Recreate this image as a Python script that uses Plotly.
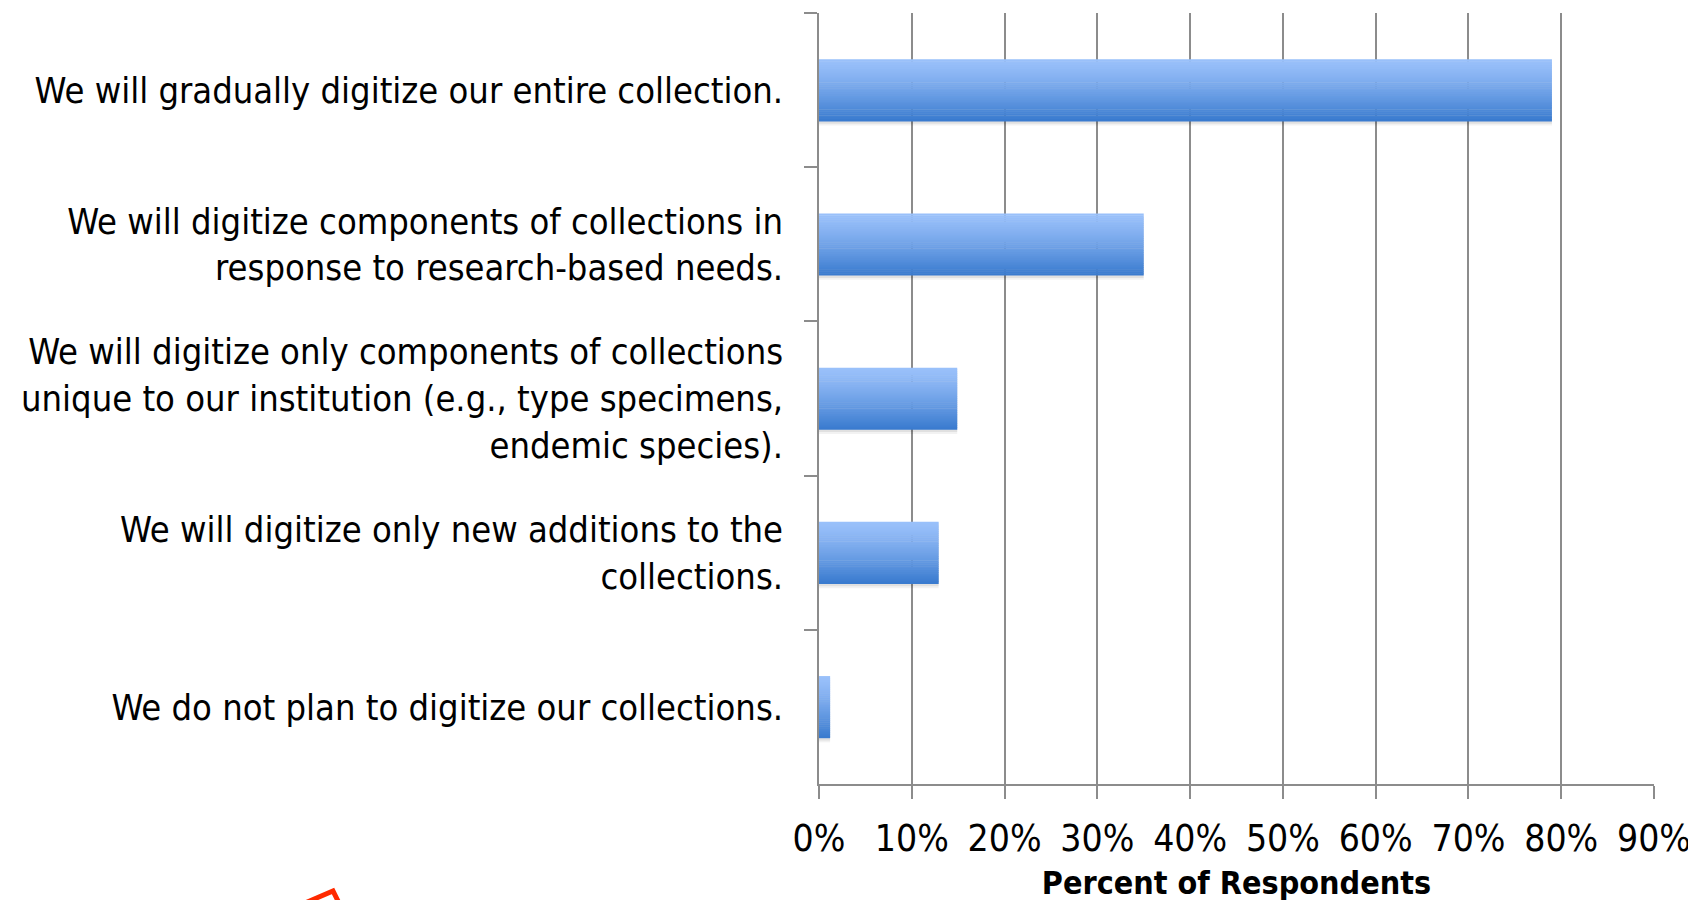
import plotly.graph_objects as go

categories = [
    "We will gradually digitize our entire collection.",
    "We will digitize components of collections in<br>response to research-based needs.",
    "We will digitize only components of collections<br>unique to our institution (e.g., type specimens,<br>endemic species).",
    "We will digitize only new additions to the<br>collections.",
    "We do not plan to digitize our collections.",
]
values = [79.0, 35.0, 14.9, 12.9, 1.2]
x_ticks = [0, 10, 20, 30, 40, 50, 60, 70, 80, 90]
x_tick_labels = ["0%", "10%", "20%", "30%", "40%", "50%", "60%", "70%", "80%", "90%"]

W, H = 1696, 900
OFF = 8  # page body margin
L, R, T, B = 819 - OFF, 42 + OFF, 13 - OFF, 116 + OFF
FONT = "DejaVu Sans Condensed, DejaVu Sans, sans-serif"

fig = go.Figure()

BAR_W = 0.40
N = 32
top_rgb = (153, 192, 250)
bot_rgb = (58, 123, 207)

# soft shadow
for s, a in [(0.03, 0.05), (0.018, 0.07)]:
    fig.add_trace(go.Bar(
        x=values, y=categories, orientation="h",
        width=BAR_W, offset=-BAR_W / 2 + s,
        marker=dict(color="rgba(0,0,0,%f)" % a, line=dict(width=0)),
        hoverinfo="skip", showlegend=False,
    ))
for k in range(N):
    t = (k / (N - 1)) ** 1.25
    c = tuple(int(round(top_rgb[i] + (bot_rgb[i] - top_rgb[i]) * t)) for i in range(3))
    fig.add_trace(go.Bar(
        x=values, y=categories, orientation="h",
        width=BAR_W / N + 0.003, offset=-BAR_W / 2 + k * BAR_W / N,
        marker=dict(color="rgb(%d,%d,%d)" % c, line=dict(width=0)),
        showlegend=False, hoverinfo="x+y",
    ))

# red arrow fragment at bottom-left (screen pixel -> paper coords)
def px(xp):
    return (xp - OFF - L) / (W - L - R)

def py(yp):
    return 1 - (yp - OFF - T) / (H - T - B)

fig.add_shape(
    type="path", xref="paper", yref="paper",
    path="M %f %f L %f %f L %f %f" % (px(305), py(903), px(333), py(891), px(339), py(903)),
    line=dict(color="#ff2a00", width=5),
)

fig.update_layout(
    width=W, height=H,
    margin=dict(l=L, r=R, t=T, b=B, pad=0),
    barmode="overlay",
    plot_bgcolor="white", paper_bgcolor="white",
    font=dict(family=FONT, color="black"),
    xaxis=dict(
        range=[0, 90], tickvals=x_ticks, ticktext=x_tick_labels,
        showgrid=True, gridcolor="#8c8c8c", gridwidth=1.5,
        showline=True, linecolor="#8c8c8c", linewidth=1.5,
        ticks="outside", ticklen=13, tickcolor="#8c8c8c", tickwidth=1.5,
        tickfont=dict(size=37, family=FONT),
        ticklabelstandoff=8,
        zeroline=False,
        title=dict(text="<b>Percent of Respondents</b>", font=dict(size=32, family=FONT), standoff=12),
    ),
    yaxis=dict(
        autorange="reversed",
        showline=True, linecolor="#8c8c8c", linewidth=1.5,
        ticks="outside", ticklen=13, tickcolor="#8c8c8c", tickwidth=1.5,
        tickson="boundaries",
        tickfont=dict(size=36, family=FONT),
        showgrid=False,
        ticklabelstandoff=27,
    ),
)

fig.write_html("out.html")
